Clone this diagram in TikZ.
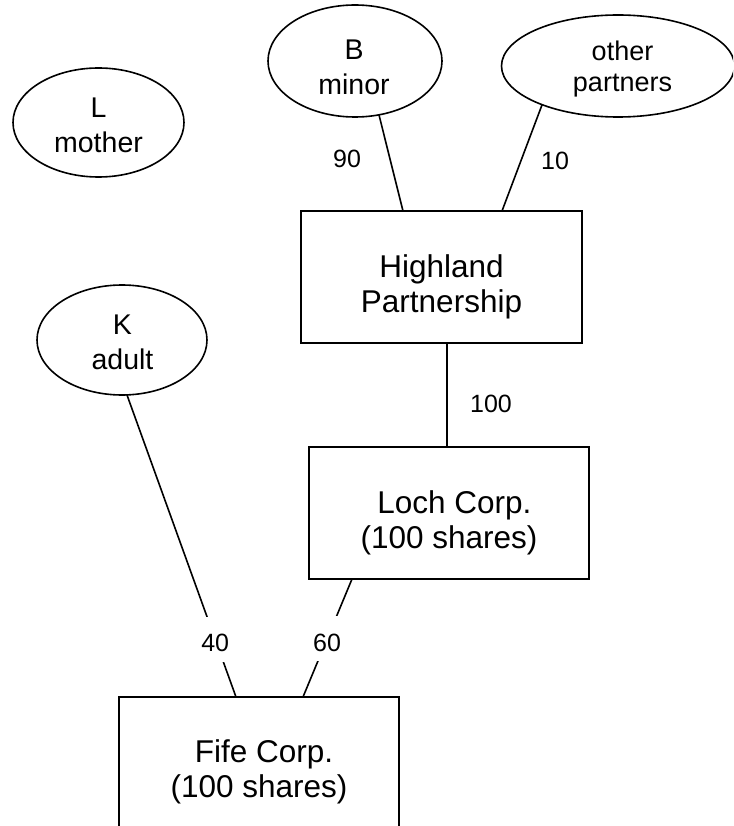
\documentclass[tikz,border=0pt]{standalone}
\usepackage{fontspec}
\setmainfont{Liberation Sans}
\usetikzlibrary{shapes.geometric,calc}

\tikzset{
  outline/.style={draw=black, line width=1.6pt, inner sep=0pt, outer sep=0pt},
  entity/.style={outline, rectangle},
  holder/.style={outline, ellipse},
  boxtext/.style={align=center, inner sep=0pt, font=\fontsize{31.5}{35}\selectfont},
  holdertext/.style={align=center, inner sep=0pt, font=\fontsize{28.5}{35}\selectfont},
  share/.style={inner sep=0pt, font=\fontsize{25}{30}\selectfont},
  cutshare/.style={share, fill=white, inner xsep=3pt, minimum height=45pt,
                   text height=25pt, text depth=0pt},
  link/.style={line width=1.6pt},
}

\begin{document}
\begin{tikzpicture}[x=1pt,y=-1pt]
\useasboundingbox (0,0) rectangle (733,826);
\clip (0,0) rectangle (733,826);

% owners (ellipses)
\node[holder, minimum width=171pt, minimum height=109pt] (L) at (98.5,122.5) {};
\node[holder, minimum width=174pt, minimum height=112pt] (B) at (355,61) {};
\node[holder, minimum width=233pt, minimum height=102pt] (O) at (618,66) {};
\node[holder, minimum width=170pt, minimum height=110pt] (K) at (122,340) {};

\node[holdertext] (Ltext) at ($(L.center)+(0,3)$) {L\\mother};
\node[holdertext] (Btext) at ($(B.center)+(-1,6.5)$) {B\\minor};
\node[holdertext, font=\fontsize{27}{31}\selectfont] (Otext) at ($(O.center)+(4.5,3)$) {other\\partners};
\node[holdertext] (Ktext) at ($(K.center)+(0.5,2.5)$) {K\\adult};

% entities (boxes)
\node[entity, minimum width=281pt, minimum height=132pt] (HP) at (441.5,277) {};
\node[entity, minimum width=280pt, minimum height=132pt] (Loch) at (449,513) {};
\node[entity, minimum width=280pt, minimum height=132pt] (Fife) at (259,763) {};

\node[boxtext] (HPtext) at ($(HP.center)+(0,9.5)$) {Highland\\Partnership};
\node[boxtext] (Lochtext) at ($(Loch.center)+(0,9.5)$) {\hspace*{11pt}Loch Corp.\\(100 shares)};
\node[boxtext] (Fifetext) at ($(Fife.center)+(0,9)$) {\hspace*{10pt}Fife Corp.\\(100 shares)};

% ownership links
\draw[link] (B.-66) -- ($(HP.north west)+(102,0)$);
\draw[link] (O.207.5) -- ($(HP.north west)+(201,0)$);
\draw[link] ($(HP.south west)+(146,0)$) -- ($(Loch.north west)+(138,0)$);
\draw[link] ($(K.south)+(5,0)$) -- node[cutshare, pos=0.809] (s40) {40} ($(Fife.north west)+(117,0)$);
\draw[link] ($(Loch.south west)+(43,0)$) -- node[cutshare, pos=0.508] (s60) {60} ($(Fife.north west)+(184,0)$);

% share labels beside links
\node[share] (s90) at (347,159) {90};
\node[share] (s10) at (555,161) {10};
\node[share] (s100) at (491,403.5) {100};
\end{tikzpicture}
\end{document}
